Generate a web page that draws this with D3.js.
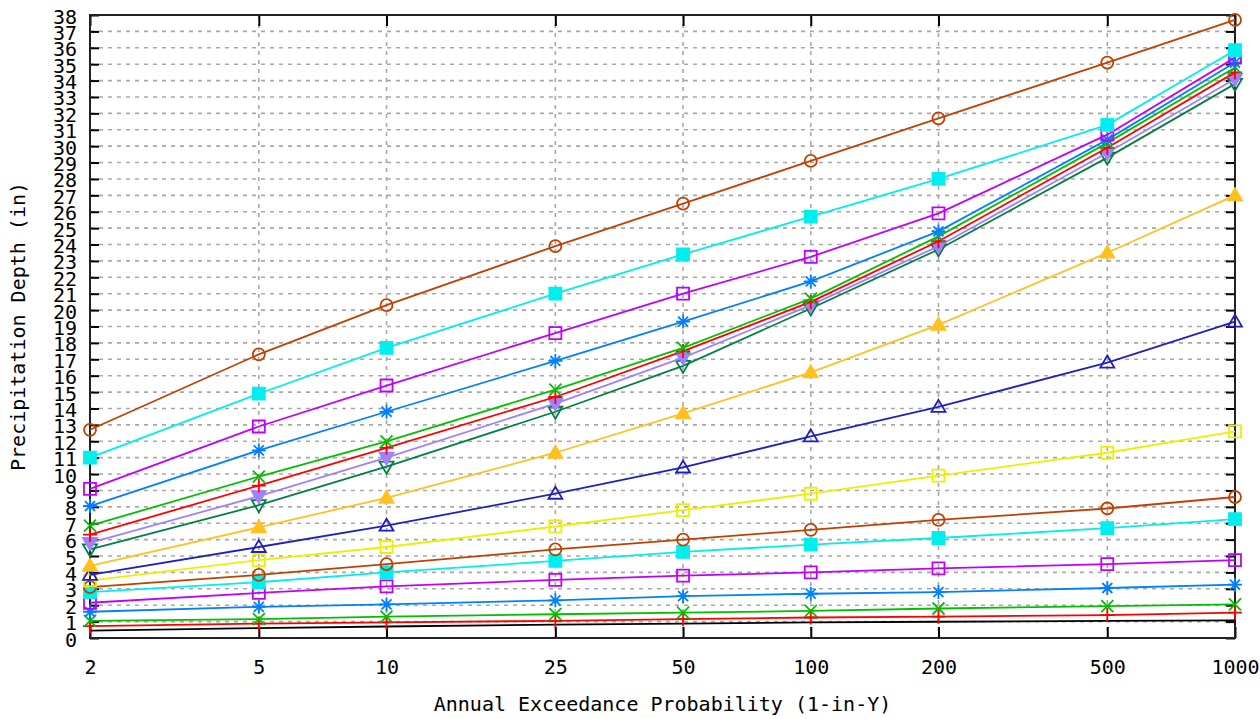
<!DOCTYPE html>
<html>
<head>
<meta charset="utf-8">
<script src="https://cdn.jsdelivr.net/npm/d3@7"></script>
<style>
  body { margin: 0; background: #fff; }
  text { font-family: "DejaVu Sans Mono", monospace; fill: #000; }
</style>
</head>
<body>
<div id="chartDiv"></div>
<script>
var returnPeriods = [2, 5, 10, 25, 50, 100, 200, 500, 1000];
var yTicks = d3.range(0, 39);

var d5min  = [0.45, 0.6, 0.7, 0.82, 0.88, 0.95, 0.99, 1.04, 1.07];
var d10min = [0.72, 0.88, 0.95, 1.05, 1.15, 1.25, 1.3, 1.4, 1.55];
var d15min = [1.05, 1.15, 1.3, 1.45, 1.55, 1.65, 1.8, 1.95, 2.05];
var d30min = [1.6, 1.9, 2.05, 2.3, 2.55, 2.7, 2.8, 3.05, 3.25];
var d60min = [2.15, 2.75, 3.15, 3.55, 3.8, 4.0, 4.25, 4.5, 4.75];
var d2hr   = [2.8, 3.4, 4.0, 4.7, 5.25, 5.7, 6.1, 6.7, 7.25];
var d3hr   = [3.1, 3.85, 4.5, 5.4, 6.0, 6.6, 7.2, 7.9, 8.6];
var d6hr   = [3.5, 4.75, 5.55, 6.8, 7.8, 8.8, 9.9, 11.3, 12.6];
var d12hr  = [3.85, 5.55, 6.85, 8.8, 10.4, 12.3, 14.1, 16.8, 19.3];
var d24hr  = [4.4, 6.75, 8.55, 11.3, 13.7, 16.2, 19.1, 23.5, 27.0];
var d2day  = [5.4, 8.1, 10.45, 13.8, 16.6, 20.1, 23.7, 29.3, 33.8];
var d3day  = [5.8, 8.65, 11.0, 14.3, 17.1, 20.3, 23.9, 29.6, 34.1];
var d4day  = [6.3, 9.3, 11.6, 14.7, 17.5, 20.5, 24.2, 29.9, 34.5];
var d7day  = [6.85, 9.85, 12.0, 15.15, 17.7, 20.7, 24.5, 30.2, 34.8];
var d10day = [8.05, 11.45, 13.8, 16.9, 19.3, 21.75, 24.8, 30.4, 35.1];
var d20day = [9.1, 12.9, 15.4, 18.6, 21.0, 23.25, 25.9, 30.7, 35.4];
var d30day = [11.0, 14.9, 17.7, 21.0, 23.4, 25.7, 28.0, 31.3, 35.85];
var d45day = [12.7, 17.3, 20.3, 23.9, 26.5, 29.1, 31.7, 35.1, 37.7];

var seriesValues = [d5min, d10min, d15min, d30min, d60min, d2hr, d3hr, d6hr, d12hr,
    d24hr, d2day, d3day, d4day, d7day, d10day, d20day, d30day, d45day];

// line colour and point type for each series, bottom curve first
var seriesColors = ["#000000", "#ff0000", "#00c000", "#0080ff", "#c000ff", "#00eeee",
    "#c04000", "#eeee00", "#2020c0", "#ffc020", "#008040", "#a080ff",
    "#ff0000", "#00c000", "#0080ff", "#c000ff", "#00eeee", "#c04000"];
var seriesPoints = ["none", "plus", "cross", "star", "box", "fbox",
    "circle", "box", "tri", "ftri", "itri", "fitri",
    "plus", "cross", "star", "box", "fbox", "circle"];

var margin = { top: 15, right: 25, bottom: 81, left: 90 },
    width = 1260 - margin.left - margin.right,
    height = 719 - margin.top - margin.bottom;

var svg = d3.select("#chartDiv").append("svg")
    .attr("width", 1260)
    .attr("height", 719)
    .append("g")
    .attr("transform", "translate(" + margin.left + "," + margin.top + ")");

var x = d3.scaleLog().domain([2, 1000]).range([0, width]);
var y = d3.scaleLinear().domain([0, 38]).range([height, 0]);

// grid
svg.append("g").selectAll("line")
    .data(yTicks.filter(function(d) { return d > 0 && d < 38; }))
    .enter().append("line")
    .attr("x1", 0).attr("x2", width)
    .attr("y1", function(d) { return y(d); })
    .attr("y2", function(d) { return y(d); })
    .attr("stroke", "#a8a8a8")
    .attr("stroke-width", 1.6)
    .attr("stroke-dasharray", "4,5");

svg.append("g").selectAll("line")
    .data(returnPeriods.slice(1, -1))
    .enter().append("line")
    .attr("x1", function(d) { return x(d); })
    .attr("x2", function(d) { return x(d); })
    .attr("y1", 0).attr("y2", height)
    .attr("stroke", "#a8a8a8")
    .attr("stroke-width", 1.6)
    .attr("stroke-dasharray", "4,5");

// axes, ticks drawn inward like the original
var yLeft = d3.axisLeft(y).tickValues(yTicks).tickSize(-9).tickPadding(13).tickFormat(d3.format("d"));
var yRight = d3.axisRight(y).tickValues(yTicks).tickSize(-9).tickFormat("");
var xBottom = d3.axisBottom(x).tickValues(returnPeriods).tickSize(-11).tickPadding(22).tickFormat(d3.format("d"));
var xTop = d3.axisTop(x).tickValues(returnPeriods).tickSize(-11).tickFormat("");

function styleAxis(g) {
    g.select(".domain").remove();
    g.selectAll(".tick line").attr("stroke", "#000").attr("stroke-width", 2);
    g.selectAll(".tick text").style("font-size", "20px").attr("fill", "#000");
}

svg.append("g").call(yLeft).call(styleAxis)
    .selectAll(".tick text").attr("dy", "0.4em");
svg.append("g").attr("transform", "translate(" + width + ",0)").call(yRight).call(styleAxis);
svg.append("g").attr("transform", "translate(0," + height + ")").call(xBottom).call(styleAxis);
svg.append("g").call(xTop).call(styleAxis);

svg.append("rect")
    .attr("width", width)
    .attr("height", height)
    .attr("fill", "none")
    .attr("stroke", "#222")
    .attr("stroke-width", 2);

// series
var line = d3.line()
    .x(function(d, i) { return x(returnPeriods[i]); })
    .y(function(d) { return y(d); });

function pointPath(type) {
    var s = 7;
    if (type == "plus") return "M" + -s + ",0H" + s + "M0," + -s + "V" + s;
    if (type == "cross") return "M-6,-6L6,6M-6,6L6,-6";
    if (type == "star") return "M-7,0H7M0,-7V7M-5,-5L5,5M-5,5L5,-5";
    if (type == "box" || type == "fbox") return "M-6,-6H6V6H-6Z";
    if (type == "circle") return "M-6,0A6,6 0 1,0 6,0A6,6 0 1,0 -6,0Z";
    if (type == "tri" || type == "ftri") return "M0,-7L7,5H-7Z";
    if (type == "itri" || type == "fitri") return "M0,7L7,-5H-7Z";
    return null;
}

var series = svg.append("g").selectAll("g")
    .data(seriesValues)
    .enter().append("g");

series.append("path")
    .attr("d", line)
    .attr("fill", "none")
    .attr("stroke", function(d, i) { return seriesColors[i]; })
    .attr("stroke-width", 1.8);

series.each(function(vals, i) {
    var type = seriesPoints[i];
    if (type == "none") return;
    var filled = type.charAt(0) == "f";
    d3.select(this).selectAll(".pt")
        .data(vals)
        .enter().append("path")
        .attr("class", "pt")
        .attr("transform", function(d, j) { return "translate(" + x(returnPeriods[j]) + "," + y(d) + ")"; })
        .attr("d", pointPath(type))
        .attr("fill", filled ? seriesColors[i] : "none")
        .attr("stroke", seriesColors[i])
        .attr("stroke-width", 1.8);
});

// titles
svg.append("text")
    .attr("x", width / 2)
    .attr("y", height + 73)
    .attr("text-anchor", "middle")
    .style("font-size", "20px")
    .text("Annual Exceedance Probability (1-in-Y)");

svg.append("text")
    .attr("transform", "translate(" + -65 + "," + height / 2 + ") rotate(-90)")
    .attr("text-anchor", "middle")
    .style("font-size", "20px")
    .text("Precipitation Depth (in)");
</script>
</body>
</html>
